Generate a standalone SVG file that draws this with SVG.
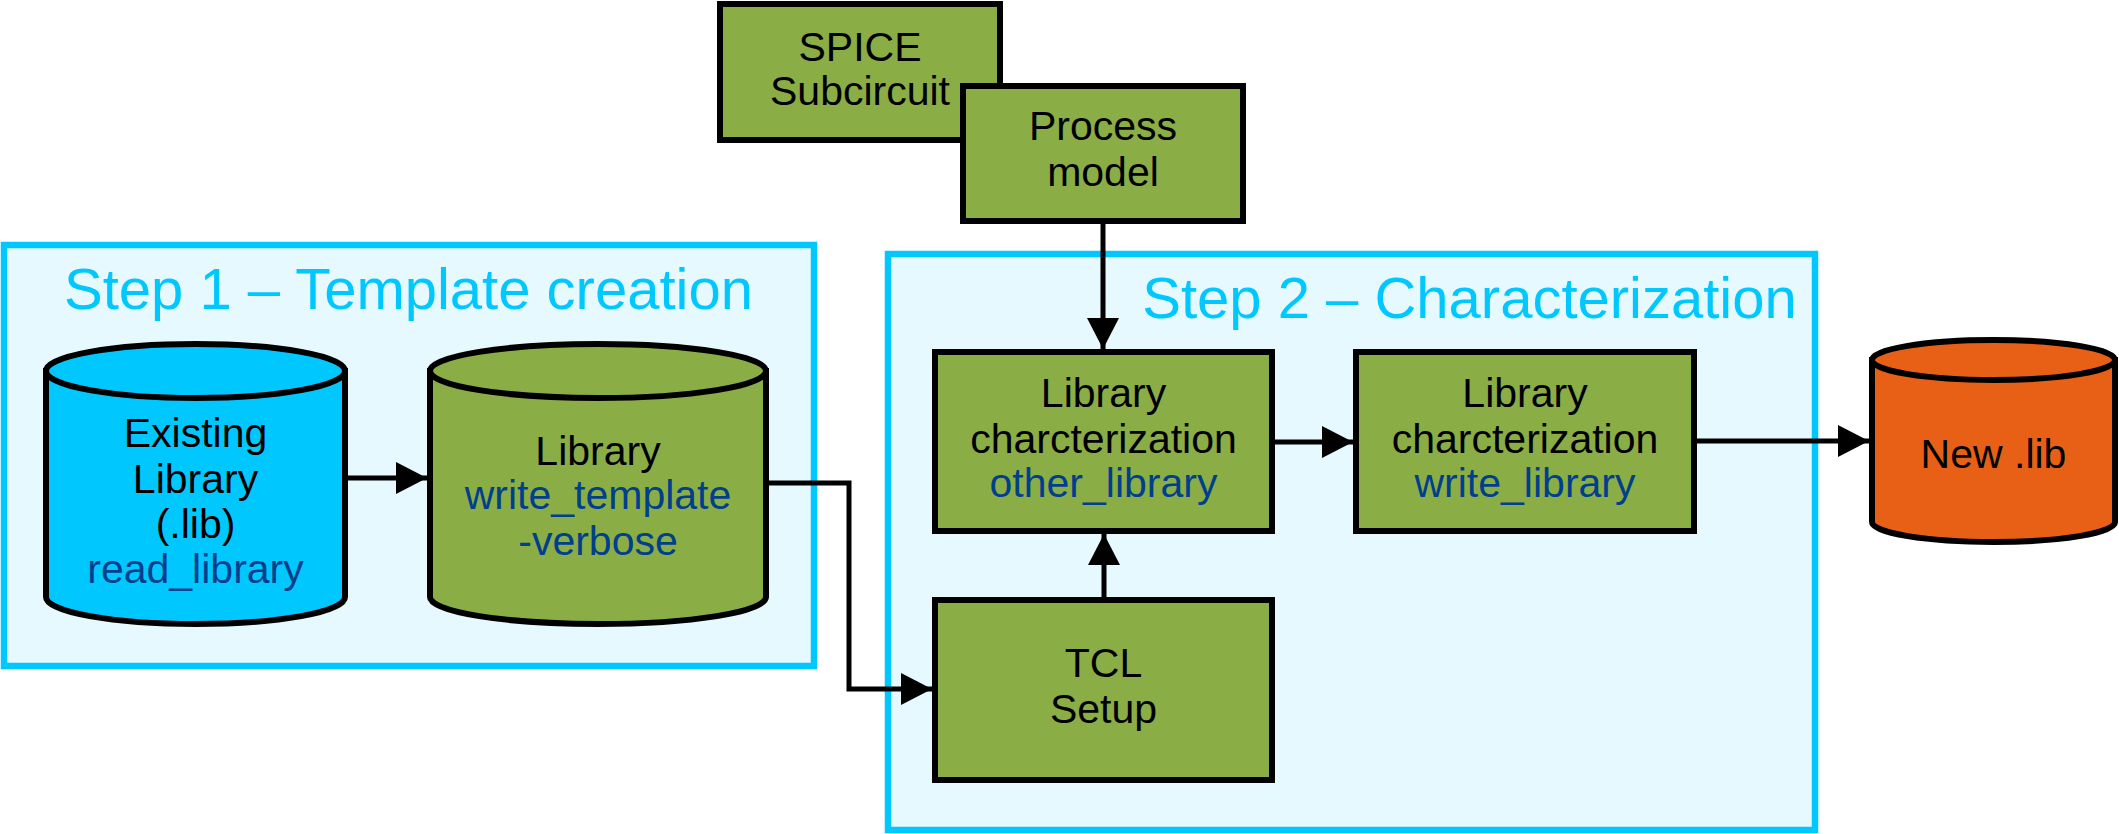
<svg xmlns="http://www.w3.org/2000/svg" width="2119" height="834" viewBox="0 0 2119 834">
<defs>
<style>
.step{fill:#E6F9FF;stroke:#00C8FF;stroke-width:6.5}
.title{font-family:"Liberation Sans",Arial,sans-serif;font-size:58px;fill:#00C8FF;text-anchor:middle}
.box{fill:#8BAD46;stroke:#000;stroke-width:6}
.cyl{stroke:#000;stroke-width:6}
.t{font-family:"Liberation Sans",Arial,sans-serif;font-size:41px;fill:#000;text-anchor:middle}
.cmd{fill:#003F8C}
.conn{fill:none;stroke:#000;stroke-width:5}
</style>
<marker id="ah" markerUnits="userSpaceOnUse" markerWidth="32" markerHeight="32" refX="31" refY="16" orient="auto" viewBox="0 0 32 32">
<path d="M0,0 L31,16 L0,32 Z" fill="#000"/>
</marker>
</defs>
<g id="step1">
<rect class="step" x="4" y="245" width="810" height="421"/>
<text class="title" x="408.5" y="309">Step 1 – Template creation</text>
</g>
<g id="step2">
<rect class="step" x="888" y="254" width="927" height="576"/>
<text class="title" x="1469.5" y="318">Step 2 – Characterization</text>
</g>
<g id="spice">
<rect class="box" x="720" y="4" width="280" height="136"/>
<text class="t" x="860" y="61">SPICE</text>
<text class="t" x="860" y="105">Subcircuit</text>
</g>
<g id="process">
<rect class="box" x="963" y="86" width="280" height="135"/>
<text class="t" x="1103" y="140">Process</text>
<text class="t" x="1103" y="186">model</text>
</g>
<g id="existing">
<path class="cyl" fill="#00C8FF" d="M46,371 L46,597 A149.5,27 0 0 0 345,597 L345,371 Z"/>
<ellipse class="cyl" fill="#00C8FF" cx="195.5" cy="371" rx="149.5" ry="27"/>
<text class="t" x="195.5" y="447">Existing</text>
<text class="t" x="195.5" y="493">Library</text>
<text class="t" x="195.5" y="538">(.lib)</text>
<text class="t cmd" x="195.5" y="583">read_library</text>
</g>
<g id="template">
<path class="cyl" fill="#8BAD46" d="M430,371 L430,597 A168,27 0 0 0 766,597 L766,371 Z"/>
<ellipse class="cyl" fill="#8BAD46" cx="598" cy="371" rx="168" ry="27"/>
<text class="t" x="598" y="465">Library</text>
<text class="t cmd" x="598" y="509">write_template</text>
<text class="t cmd" x="598" y="555">-verbose</text>
</g>
<g id="charlib1">
<rect class="box" x="935" y="352" width="337" height="179"/>
<text class="t" x="1103.5" y="407">Library</text>
<text class="t" x="1103.5" y="453">charcterization</text>
<text class="t cmd" x="1103.5" y="497">other_library</text>
</g>
<g id="charlib2">
<rect class="box" x="1356" y="352" width="338" height="179"/>
<text class="t" x="1525" y="407">Library</text>
<text class="t" x="1525" y="453">charcterization</text>
<text class="t cmd" x="1525" y="497">write_library</text>
</g>
<g id="tcl">
<rect class="box" x="935" y="600" width="337" height="180"/>
<text class="t" x="1103.5" y="677">TCL</text>
<text class="t" x="1103.5" y="723">Setup</text>
</g>
<g id="newlib">
<path class="cyl" fill="#E86016" d="M1872,360 L1872,522 A121.5,20 0 0 0 2115,522 L2115,360 Z"/>
<ellipse class="cyl" fill="#E86016" cx="1993.5" cy="360" rx="121.5" ry="20"/>
<text class="t" x="1993.5" y="468">New .lib</text>
</g>
<g id="connectors">
<path class="conn" marker-end="url(#ah)" d="M348,478 L427,478"/>
<path class="conn" marker-end="url(#ah)" d="M769,483 L849,483 L849,689 L932,689"/>
<path class="conn" marker-end="url(#ah)" d="M1103,224 L1103,349"/>
<path class="conn" marker-end="url(#ah)" d="M1104,597 L1104,534"/>
<path class="conn" marker-end="url(#ah)" d="M1275,442 L1353,442"/>
<path class="conn" marker-end="url(#ah)" d="M1697,441 L1869,441"/>
</g>
</svg>
